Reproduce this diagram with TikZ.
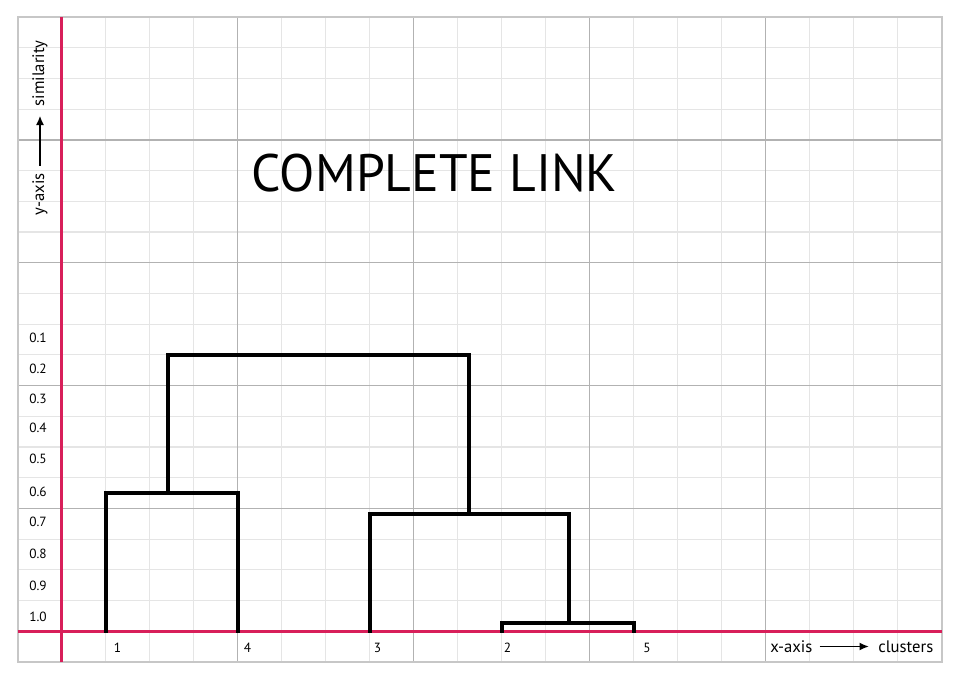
\documentclass[tikz,border=0pt]{standalone}
\usepackage{fontspec}
\setmainfont{PT Sans}
\usetikzlibrary{calc,arrows.meta}
\begin{document}
\begin{tikzpicture}[x=0.75pt,y=-0.75pt,
  minorgrid/.style={draw=black!10,line width=0.9pt},
  majorgrid/.style={draw=black!30,line width=1.1pt},
  framegrid/.style={draw=black!22,line width=1.5pt},
  axisline/.style={draw=axispink,line width=2.3pt},
  dendro/.style={draw=black,line width=3pt,line cap=rect,line join=miter},
  ticklab/.style={font=\fontsize{10}{12}\selectfont,inner sep=0pt,anchor=center},
  axlab/.style={font=\fontsize{12.5}{14}\selectfont,inner sep=0pt},
  axarrow/.style={-{Latex[length=7pt,width=6pt]},line width=1.3pt},
]
\definecolor{axispink}{HTML}{D81F5A}
\useasboundingbox (0,0) rectangle (962,681);
\fill[white] (0,0) rectangle (962,681);
% minor grid
\foreach \j in {1,...,20} \draw[minorgrid] ({17.5+\j*44},17) -- ({17.5+\j*44},662);
\foreach \i in {1,...,20} \draw[minorgrid] (17.5,{17+\i*30.714}) -- (941.5,{17+\i*30.714});
% major grid
\foreach \j in {5,9,13,17} \draw[majorgrid] ({17.5+\j*44},17) -- ({17.5+\j*44},662);
\foreach \i in {4,8,12,16} \draw[majorgrid] (17.5,{17+\i*30.714}) -- (941.5,{17+\i*30.714});
% frame
\draw[framegrid] (17.5,17) rectangle (941.5,662);
% axes
\draw[axisline] (61.5,17) -- (61.5,662);
\draw[axisline] (17.5,631.3) -- (941.5,631.3);
% dendrogram coordinates
\coordinate (l1) at (105.5,631.3);
\coordinate (l4) at (237.5,631.3);
\coordinate (l3) at (370,631.3);
\coordinate (l2) at (502,631.3);
\coordinate (l5) at (634,631.3);
\coordinate (m14L) at (105.5,493);
\coordinate (m14R) at (237.5,493);
\coordinate (m25L) at (502,622.5);
\coordinate (m25R) at (634,622.5);
\coordinate (m325L) at (370,514);
\coordinate (m325R) at (568.5,514);
\coordinate (topL) at (168,355);
\coordinate (topR) at (468.5,355);
\draw[dendro] (l1) -- (m14L) -- (m14R) -- (l4);
\draw[dendro] (l2) -- (m25L) -- (m25R) -- (l5);
\draw[dendro] (m325R |- m25R) -- (m325R) -- (m325L) -- (l3);
\draw[dendro] (topL |- m14L) -- (topL) -- (topR) -- (topR |- m325R);
% title
\node[font=\fontsize{39.5}{45}\selectfont,inner sep=0pt,xscale=0.98] (title) at (434.5,173.5) {COMPLETE LINK};
% y ticks
\foreach \v/\y [count=\k] in {0.1/338.3,0.2/369.3,0.3/399,0.4/428.3,0.5/459,0.6/491.7,0.7/522.3,0.8/554.3,0.9/585.7,1.0/616.7}
  \node[ticklab] (yt\k) at (38,\y) {\v};
% leaf labels
\node[ticklab] (t1) at (117.5,648) {1};
\node[ticklab] (t4) at (247.5,648) {4};
\node[ticklab] (t3) at (377.5,648) {3};
\node[ticklab] (t2) at (507.5,648) {2};
\node[ticklab] (t5) at (647,648) {5};
% x axis label
\node[axlab,anchor=west] (xa) at (770,646.5) {x-axis};
\node[axlab,anchor=east] (xc) at (933.5,646.5) {clusters};
\draw[axarrow] ($(xa.east)+(7,0)$) -- ($(xc.west)+(-9,0)$);
% y axis label
\node[axlab,rotate=90,anchor=west] (ya) at (40,215.5) {y-axis};
\node[axlab,rotate=90,anchor=east] (ys) at (40,40) {similarity};
\draw[axarrow] ($(ya.east)+(0,-7)$) -- ($(ys.west)+(0,9)$);
\end{tikzpicture}
\end{document}
